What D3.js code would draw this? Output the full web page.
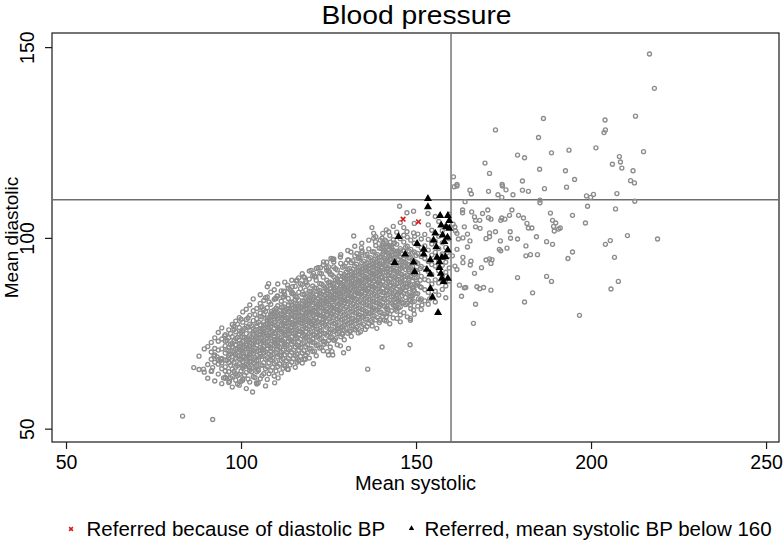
<!DOCTYPE html>
<html>
<head>
<meta charset="utf-8">
<script src="https://cdn.jsdelivr.net/npm/d3@7"></script>
<style>
  html, body { margin: 0; padding: 0; background: #fff; }
  svg { display: block; font-family: "Liberation Sans", Arial, Helvetica, sans-serif; }
</style>
</head>
<body>
<svg id="chart" width="783" height="541"></svg>
<script>
// ---------------- DATA ----------------
const chartTitle = "Blood pressure";
const xTitle = "Mean systolic";
const yTitle = "Mean diastolic";
const xTicks = [50, 100, 150, 200, 250];
const yTicks = [50, 100, 150];
const refSystolic = 160;
const refDiastolic = 110;
const legendLabels = ["Referred because of diastolic BP", "Referred, mean systolic BP below 160"];

// Referred because of diastolic BP (red x)
const referredDia = [[146.3, 104.9], [150.7, 104.2]];

// Referred, mean systolic BP below 160 (black triangles)
const referredSys = [
  [153.4,110.3],[153.4,108.1],[156.9,105.8],[159.1,105.8],[159.5,104.5],[157.2,103.3],[158.6,102.9],
  [159.5,102.5],[155.5,101.2],[157.6,100.7],[159.0,100.1],[145.0,100.3],[150.3,98.5],[155.0,99.4],
  [155.8,97.6],[158.1,99.0],[152.2,97.0],[159.1,96.8],[146.9,95.7],[152.2,95.7],[156.0,94.9],
  [157.4,94.9],[158.4,95.0],[143.9,93.5],[149.3,93.6],[154.1,94.2],[156.7,93.7],[156.7,92.2],
  [153.1,91.7],[149.6,91.1],[154.1,90.5],[157.1,90.7],[157.4,89.4],[159.1,89.4],[157.9,88.5],
  [154.1,86.7],[154.7,84.4],[156.3,80.4]
];

// Other patients (grey hollow circles): scattered points
const otherScattered = [
  [83.3,53.3],[91.9,52.4],[103.3,59.6],[107.0,61.2],[109.6,62.0],[110.6,63.3],[104.4,62.0],[104.9,62.0],
  [99.0,61.7],[100.4,62.6],[96.7,62.4],[95.0,63.3],[95.5,63.2],[89.3,65.6],[91.6,65.2],[91.9,66.0],
  [102.3,66.0],[104.9,65.3],[113.3,65.6],[112.5,66.4],[120.7,67.0],[116.5,67.7],[118.4,68.2],[136.2,65.6],
  [92.3,69.0],[93.2,68.8],[94.0,67.7],[94.3,68.2],[97.9,76.7],[95.3,74.3],[105.6,81.8],[108.7,80.7],
  [130.7,71.0],[129.3,69.9],[124.7,70.2],[126.0,70.2],[126.2,69.3],[125.0,69.3],[126.7,73.2],[123.7,72.1],
  [107.9,88.0],[107.0,84.3],[109.8,84.1],[110.3,84.7],[112.2,84.6],[112.3,85.9],[113.3,87.6],[114.7,87.2],
  [116.0,88.9],[117.0,88.0],[118.2,89.6],[118.6,88.2],[121.4,89.8],[122.0,92.2],[122.7,92.2],[123.6,93.7],
  [124.4,92.2],[125.3,91.1],[126.2,94.4],[126.5,93.7],[112.2,86.0],[114.6,85.8],[115.8,88.7],[117.9,89.8],
  [120.7,90.7],[120.0,91.5],[125.0,92.4],[125.7,94.6],[126.3,94.3],[128.4,95.0],[130.7,94.2],[131.4,96.3],
  [133.1,95.9],[133.6,95.0],[134.4,97.4],[134.6,96.6],[132.2,100.5],[137.4,102.7],[137.9,101.2],[137.9,99.9],
  [138.4,99.0],[139.8,99.4],[140.7,98.5],[142.2,97.8],[143.1,96.5],[143.9,98.7],[144.6,96.5],[145.5,96.6],
  [149.6,100.4],[146.5,100.7],[142.2,101.6],
  [148.4,78.4],[144.2,81.3],[141.5,79.3],[141.0,78.4],[139.6,78.4],[137.4,78.0],[136.0,76.7],[138.8,76.3],
  [134.1,75.4],[132.7,76.0],[131.2,75.4],[127.9,76.3],[128.9,75.0],[128.4,71.7],[140.3,71.4],[148.3,72.0],
  [149.3,86.3],[147.4,87.2],[146.5,88.0],[145.5,86.3],[144.6,85.0],[145.0,83.2],[150.7,84.0],[148.9,83.2],
  [148.4,82.4],[151.2,87.2],[150.3,88.1],[153.9,84.0],
  [145.3,108.3],[147.4,106.6],[149.3,107.0],[153.4,106.4],[145.5,104.0],[147.4,101.6],[149.3,101.3],
  [140.3,99.9],[141.2,99.4],[142.7,98.9],[143.6,98.5],[140.3,98.1],[141.7,97.6],[143.1,97.2],[140.7,96.3],
  [142.2,95.5],[144.1,95.7],[145.5,95.0],[141.2,94.2],[142.7,94.3],[146.5,93.7],[140.3,92.4],[141.7,92.0],
  [143.6,91.5],[145.5,92.0],[147.9,91.7],[151.2,92.0],[140.3,89.8],[142.2,90.2],[144.1,89.8],[146.0,89.4],
  [147.9,88.9],[151.2,88.9],[142.7,87.6],[144.6,88.0],[147.4,87.1],[149.3,87.1],[141.7,86.3],[143.6,85.4],
  [146.5,85.4],[148.9,85.0],[140.7,84.1],[143.6,83.7],[145.5,83.7],[148.4,83.7],[151.2,83.7],[141.7,82.0],
  [144.1,82.0],[151.7,82.4],[149.3,81.1],[145.5,79.8],[141.7,80.2],[144.6,78.9],[148.4,78.9],
  // right of the 160 line
  [216.7,148.2],[218.1,139.2],[186.4,131.3],[172.7,128.3],[185.0,126.3],[204.0,130.9],[204.1,128.3],[203.7,127.6],
  [212.7,131.9],[215.0,122.6],[201.4,123.6],[193.7,123.0],[188.7,122.3],[179.0,121.7],[181.0,121.0],[169.7,119.6],
  [171.0,116.9],[185.3,118.0],[192.7,117.6],[195.3,115.3],[180.4,114.9],[208.1,121.3],[208.4,119.9],[206.1,119.3],
  [208.8,118.3],[212.0,117.6],[211.3,115.0],[212.4,114.4],[160.7,116.0],[174.6,114.0],[161.7,114.0],
  [193.0,113.3],[198.7,111.0],[199.9,110.6],[200.7,111.4],[207.4,111.6],[212.5,109.6],[199.0,108.3],[207.0,107.6],
  [194.7,105.9],[198.4,103.9],[191.2,102.6],[210.4,100.6],[219.0,99.7],[205.5,99.3],[204.1,98.3],[194.7,96.3],
  [193.4,94.6],[206.7,94.9],[207.8,88.6],[205.7,86.6],[196.7,79.7],
  [160.9,113.4],[161.7,113.6],[165.4,112.5],[165.8,111.5],[170.7,112.2],[174.7,113.6],[175.7,112.6],[173.4,111.3],
  [174.5,110.6],[177.7,111.3],[180.4,112.5],[182.1,112.2],[186.7,112.9],[164.0,109.5],[185.4,109.9],[185.4,109.2],
  [163.3,107.3],[163.3,106.6],[165.9,106.8],[166.7,105.5],[167.0,104.6],[168.2,104.6],[169.0,106.4],[170.5,107.3],
  [170.7,105.3],[171.4,104.9],[174.2,104.6],[174.5,105.2],[175.4,104.9],[176.7,105.9],[177.4,107.3],[179.3,105.9],
  [180.7,105.2],[181.7,103.8],[182.1,102.6],[183.1,102.6],[188.4,106.5],[189.0,104.6],[189.9,103.9],[189.3,103.0],
  [189.5,101.8],[190.7,102.3],[160.6,103.6],[161.1,102.9],[161.3,101.8],[161.7,101.2],[163.8,102.9],[162.1,99.7],
  [163.4,100.0],[164.7,101.0],[165.4,99.2],[167.0,102.9],[168.3,102.5],[170.0,99.8],[171.0,100.3],[171.0,101.3],
  [172.7,101.6],[174.1,99.2],[176.9,101.6],[177.0,99.9],[179.0,99.7],[184.4,100.3],[187.3,99.0],[189.0,98.3],
  [181.4,97.9],[164.7,97.6],[161.7,97.0],[173.8,97.0],[174.2,96.6],[176.0,97.3],[181.4,95.3],[182.7,95.6],
  [184.7,95.6],[160.4,95.3],[163.4,94.9],[163.4,93.5],[165.7,93.9],[165.5,92.9],[170.0,94.2],[171.0,94.5],
  [171.7,94.3],[171.4,93.3],[168.7,92.2],[161.1,92.6],[161.7,91.7],[166.7,90.7],[179.0,89.6],[187.3,89.9],
  [188.7,88.6],[162.4,87.6],[163.8,86.9],[164.2,87.0],[167.4,87.2],[168.2,86.7],[169.3,87.0],[171.4,86.3],
  [163.0,84.7],[183.3,85.6],[167.0,82.6],[181.0,83.2],[166.4,77.6]
];

// Other patients: main cloud, listed by systolic value with the diastolic values seen there
const cloudSys = [
  86.5, 88, 89.5, 90.5, 91.5, 92.5, 93.5, 94.5, 95.5, 96.5, 97.5, 98.5, 99.5,
  100.5, 101.5, 102.5, 103.5, 104.5, 105.5, 106.5, 107.5, 108.5, 109.5,
  110.5, 111.5, 112.5, 113.5, 114.5, 115.5, 116.5, 117.5, 118.5, 119.5,
  120.5, 121.5, 122.5, 123.5, 124.5, 125.5, 126.5, 127.5, 128.5, 129.5,
  130.5, 131.5, 132.5, 133.5, 134.5, 135.5, 136.5, 137.5, 138.5, 139.5,
  140.5, 141.5, 142.5, 143.5, 144.5, 145.5, 146.5, 147.5, 148.5, 149.5,
  150.5, 151.5, 152.5, 153.5, 154.5, 155.5, 156.5, 157.5, 158.5, 159.5
];
const cloudDia = [
  [66.0],
  [65.5,69.0],
  [64.8,70.9],
  [66.8,71.5,63.2],
  [68.2,72.6,65.0,70.1],
  [62.5,67.4,71.0,73.8,69.3],
  [64.3,66.9,70.6,72.9,68.1,75.2],
  [61.8,65.7,68.4,70.9,73.5,67.2,76.4],
  [63.4,66.2,69.8,71.7,74.6,68.0,72.9,65.1],
  [62.1,64.9,67.3,69.2,71.3,73.8,75.9,68.6,70.4],
  [60.9,65.6,67.9,70.2,72.4,74.1,77.3,68.8,63.7,71.5],
  [62.7,66.1,68.5,70.8,72.0,73.6,75.4,78.2,69.5,64.4,71.9],
  [61.4,64.2,67.0,69.1,70.7,72.3,74.8,76.5,79.1,68.3,71.4,73.2],
  [63.0,65.8,67.6,69.9,71.2,72.8,74.0,75.7,77.9,80.6,70.3,68.8,66.4],
  [60.5,64.7,66.9,68.3,70.0,71.8,73.4,74.9,76.8,78.6,72.2,69.6,67.7,81.3],
  [62.2,65.3,67.5,69.4,70.9,72.6,74.3,75.8,77.4,79.7,71.5,68.7,73.5,82.4],
  [63.6,66.0,68.1,69.7,71.4,73.0,74.7,76.2,78.3,80.9,72.1,70.5,67.2,75.3,84.0],
  [61.7,64.9,67.8,70.2,71.9,73.6,75.1,76.9,78.8,81.5,72.7,69.2,74.2,77.6,66.5],
  [63.1,66.7,68.9,70.6,72.3,73.9,75.6,77.2,79.4,82.8,71.3,74.6,76.1,69.5,80.3,85.1],
  [64.4,67.3,69.8,71.6,73.1,74.8,76.4,78.0,79.9,83.6,72.5,75.4,70.7,77.1,81.2],
  [62.9,66.2,68.6,70.9,72.8,74.3,75.9,77.5,79.0,81.7,84.5,73.7,76.6,71.8,78.4,87.2],
  [65.2,68.0,70.3,72.1,73.8,75.2,76.8,78.3,80.1,82.6,74.5,77.7,71.2,79.6,85.8,69.1],
  [63.8,67.1,69.6,71.9,73.4,75.0,76.3,77.9,79.3,81.1,83.9,74.1,78.7,72.6,80.5,86.4],
  [66.3,68.8,70.8,72.7,74.4,75.9,77.4,78.9,80.4,82.2,84.8,76.5,73.3,79.8,71.5,87.9],
  [64.6,67.9,70.1,72.4,74.0,75.5,77.0,78.6,80.0,81.8,83.4,86.1,76.2,73.2,79.2,69.2],
  [66.8,69.4,71.6,73.5,75.3,76.9,78.1,79.5,81.0,82.7,85.0,77.6,74.7,80.6,72.0,88.4],
  [65.5,68.4,70.7,72.9,74.8,76.1,77.8,79.1,80.7,82.3,84.1,86.8,75.6,78.5,81.5,73.8],
  [67.4,70.0,72.2,74.1,75.7,77.3,78.8,80.2,81.6,83.2,85.4,88.9,76.6,79.8,73.0,82.4],
  [66.1,69.1,71.4,73.6,75.1,76.7,78.2,79.7,81.2,82.9,84.6,87.3,77.5,80.5,74.4,83.8],
  [68.0,70.6,72.8,74.6,76.3,77.9,79.4,80.8,82.1,83.7,85.7,89.5,78.6,81.4,75.5,71.7],
  [67.2,69.8,72.3,74.3,76.0,77.6,79.0,80.4,81.9,83.5,85.2,87.8,78.3,82.6,75.2,90.6],
  [69.3,71.5,73.7,75.4,77.1,78.7,80.1,81.5,83.0,84.4,86.3,88.6,79.6,82.2,76.4,74.0],
  [68.5,71.0,73.2,75.0,76.8,78.4,79.9,81.3,82.8,84.3,86.0,89.2,77.9,80.7,83.6,91.3],
  [70.2,72.6,74.7,76.5,78.1,79.6,81.0,82.5,83.9,85.5,87.4,90.1,80.3,77.3,84.8,73.5],
  [69.1,71.8,74.0,76.1,77.7,79.2,80.6,82.0,83.4,85.0,86.8,88.9,81.7,78.9,92.0,75.3],
  [71.1,73.4,75.6,77.3,78.9,80.4,81.8,83.2,84.7,86.2,88.0,90.8,82.6,79.7,85.6,74.6],
  [70.4,72.9,75.0,76.9,78.6,80.0,81.5,82.9,84.3,85.9,87.5,89.7,92.9,83.7,79.3,77.8],
  [72.3,74.5,76.6,78.3,79.9,81.3,82.7,84.1,85.5,87.1,88.9,91.5,83.3,80.6,86.4,93.6],
  [71.4,73.9,76.0,77.9,79.5,81.0,82.4,83.8,85.2,86.7,88.4,90.5,84.6,80.2,87.6,75.0],
  [73.2,75.5,77.5,79.2,80.8,82.3,83.7,85.1,86.5,88.0,89.8,92.4,84.4,81.6,87.0,94.5],
  [72.0,74.9,77.0,78.8,80.5,82.0,83.4,84.8,86.2,87.7,89.3,91.6,85.6,81.2,88.5,76.2],
  [74.1,76.4,78.5,80.2,81.8,83.3,84.7,86.1,87.5,89.0,90.7,93.3,85.4,82.9,88.2,95.6],
  [73.3,75.8,78.0,79.8,81.4,82.9,84.3,85.8,87.2,88.7,90.4,92.6,86.6,83.6,89.5,77.1],
  [75.0,77.4,79.4,81.1,82.7,84.2,85.6,87.0,88.4,90.0,91.7,94.2,86.3,83.9,89.2,96.7],
  [74.2,76.9,78.9,80.7,82.3,83.8,85.2,86.7,88.1,89.6,91.3,93.5,87.7,84.6,90.5,78.0],
  [75.9,78.3,80.3,82.0,83.6,85.1,86.5,87.9,89.3,90.9,92.6,95.3,87.3,84.8,90.1,97.8],
  [75.1,77.8,79.9,81.6,83.2,84.7,86.1,87.6,89.0,90.5,92.2,94.6,88.6,85.5,91.4,79.2],
  [76.8,79.2,81.2,82.9,84.5,86.0,87.4,88.8,90.2,91.8,93.5,96.2,88.2,85.8,91.0,98.6],
  [76.0,78.7,80.8,82.5,84.1,85.6,87.0,88.5,89.9,91.4,93.1,95.4,89.5,86.4,92.3,80.1],
  [77.6,80.1,82.1,83.8,85.4,86.9,88.3,89.7,91.1,92.7,94.4,97.1,89.1,86.7,92.0,99.4],
  [76.9,79.6,81.7,83.4,85.0,86.5,87.9,89.4,90.8,92.3,94.0,96.4,90.4,87.3,93.2,81.0],
  [78.5,81.0,83.0,84.7,86.3,87.8,89.2,90.6,92.0,93.6,95.3,98.0,90.0,87.6,92.9,100.3],
  [77.8,80.5,82.6,84.3,85.9,87.4,88.8,90.3,91.7,93.2,94.9,97.3,91.3,88.2,94.1,81.9],
  [79.4,83.1,85.7,88.6,90.9,93.0,95.8,97.6,101.2,86.8],
  [78.2,81.5,84.9,87.3,89.2,91.8,93.9,96.4,99.0,102.1],
  [80.1,83.6,86.0,88.4,90.7,92.8,95.2,97.9,100.6,77.5],
  [79.0,82.4,84.8,87.2,89.6,92.1,94.7,96.8,99.5,103.0],
  [80.8,84.2,86.6,89.0,91.2,93.4,96.0,98.3,101.5],
  [78.0,81.9,85.9,88.3,90.6,92.7,94.9,97.2,99.8],
  [80.4,83.0,86.9,89.8,92.4,94.4,96.6,98.9,102.7],
  [79.3,82.8,85.3,88.0,90.3,93.1,95.6,97.8,100.2],
  [81.5,84.5,87.6,90.0,92.2,94.8,97.0,99.4],
  [80.0,83.3,86.2,89.5,91.6,93.9,96.3,98.6,103.8],
  [82.1,85.4,88.1,90.8,93.3,95.9,98.1,101.0],
  [81.2,84.0,87.0,89.9,92.5,95.1,97.4,99.7],
  [83.5,86.4,89.1,92.0,94.6,97.9,100.9],
  [82.6,85.7,88.8,91.2,93.8,96.8,99.6,103.4],
  [84.8,87.9,90.4,93.0,95.5,98.4,102.0],
  [83.2,86.0,89.0,92.6,96.2,99.1,105.6],
  [85.0,88.2,91.4,94.0,97.2,100.4,104.3],
  [86.5,89.6,92.8,95.8,98.7,101.9],
  [84.3,87.4,91.0,93.6,97.5,103.1],
  [88.7,92.1,95.3,99.8,106.2]
];

// Additional points in the dense core of the cloud (between the columns above)
const coreSys = [
  96, 97, 98, 99, 100, 101, 102, 103, 104, 105, 106, 107, 108, 109, 110, 111, 112, 113,
  114, 115, 116, 117, 118, 119, 120, 121, 122, 123, 124, 125, 126, 127, 128, 129, 130,
  131, 132, 133, 134, 135, 136, 137, 138, 139, 140, 141, 142, 143, 144, 145, 146, 147,
  148, 149, 150
];
const coreDia = [
  [64.1,67.9,70.6,73.1],
  [63.3,66.6,69.5,72.0,74.9],
  [65.0,67.4,70.0,73.0,76.0],
  [63.9,66.5,69.0,71.1,73.9,77.4],
  [62.4,65.1,68.1,70.5,72.5,75.2,78.7],
  [64.0,66.3,69.0,71.5,73.9,76.3],
  [63.0,66.6,68.9,71.1,73.2,76.6,79.0],
  [64.9,67.6,70.0,72.3,74.0,77.0],
  [63.4,66.3,68.7,71.1,73.3,75.8,79.9],
  [65.4,67.9,70.4,72.8,74.7,77.9],
  [63.9,66.6,69.0,71.0,73.7,76.1,79.3,82.0],
  [65.7,68.2,70.2,72.5,75.1,77.3,80.7],
  [64.4,67.3,69.5,71.7,74.2,76.3,78.9,83.2],
  [66.1,68.5,70.9,73.0,75.5,77.4,80.1],
  [65.1,67.5,69.9,72.2,74.9,77.0,79.3,81.6,84.1],
  [66.9,69.3,71.3,73.8,76.0,78.2,80.9],
  [65.8,68.3,70.5,72.9,75.2,77.4,79.8,82.0,84.5],
  [67.8,70.0,72.1,74.4,76.6,79.0,81.2],
  [66.7,69.2,71.1,73.4,75.6,77.8,80.5,83.1,86.4],
  [68.4,70.6,72.7,74.9,77.1,79.3,81.7,85.3],
  [67.4,69.5,71.9,73.9,76.0,78.3,80.4,82.6,84.4],
  [69.0,71.2,73.4,75.5,77.6,79.8,82.0,86.7],
  [68.2,70.4,72.5,74.6,76.8,78.9,81.1,83.4,85.1],
  [69.8,72.0,74.1,76.2,78.3,80.3,82.5,84.7,87.6],
  [71.0,73.0,75.3,77.5,79.1,81.4,83.3,85.9],
  [70.3,72.5,74.6,76.9,78.4,80.8,82.9,84.4,86.9,89.8],
  [72.0,74.2,76.0,78.0,80.1,82.2,84.1,86.0],
  [71.3,73.6,75.7,77.7,79.6,81.8,83.5,85.3,87.9,90.6],
  [72.7,74.9,77.2,79.1,80.9,83.0,84.9,86.8],
  [73.1,75.2,77.0,78.8,80.8,82.6,84.4,86.1,88.3,91.2],
  [74.0,76.1,78.1,80.0,81.9,83.9,85.8,87.9,90.3],
  [73.6,75.7,77.6,79.6,81.3,83.1,85.0,86.9,89.0,91.9],
  [75.2,77.2,79.1,80.9,82.6,84.5,86.4,88.3,90.0],
  [74.7,76.7,78.6,80.5,82.2,84.0,85.9,87.8,89.9,92.3],
  [76.2,78.1,79.9,81.8,83.5,85.3,87.1,89.1,91.0,93.4],
  [75.6,77.7,79.5,81.4,83.1,84.9,86.5,88.5,90.2,92.0],
  [77.0,78.9,80.8,82.6,84.3,86.2,88.0,89.8,91.8,94.0],
  [76.5,78.5,80.4,82.2,83.9,85.8,87.4,89.2,91.1,93.1],
  [77.9,79.8,81.6,83.5,85.3,87.0,88.7,90.6,92.4,94.8],
  [77.3,79.4,81.2,83.0,84.8,86.6,88.2,90.1,91.9,93.9],
  [78.7,80.6,82.5,84.3,86.1,87.8,89.6,91.5,93.3,95.7],
  [78.3,80.3,82.2,83.9,85.7,87.4,89.1,90.9,92.8,94.8],
  [79.6,81.5,83.4,85.2,87.0,88.7,90.5,92.4,94.3,96.3],
  [79.1,81.2,83.0,84.8,86.6,88.4,90.0,91.9,93.7,95.6],
  [80.5,82.4,84.2,86.0,87.8,89.6,91.4,93.2,95.1,97.2],
  [80.0,82.0,83.8,85.6,87.5,89.3,90.9,92.7,94.6,96.6],
  [81.3,83.2,85.1,86.9,88.7,90.4,92.2,94.0,96.0],
  [80.9,82.9,84.6,86.5,88.3,90.1,91.8,93.5,95.4,97.6],
  [82.2,84.0,85.9,87.7,89.5,91.3,93.1,94.9],
  [81.6,83.6,85.5,87.3,89.1,90.9,92.6,94.4,96.3],
  [83.0,84.9,86.7,88.6,90.4,92.2,93.9,95.8],
  [82.5,84.4,86.3,88.1,89.9,91.7,93.5,95.3,97.5],
  [83.8,85.7,87.5,89.4,91.2,93.0,94.7,96.6],
  [84.7,86.8,88.7,90.6,92.5,94.2,96.0],
  [85.4,87.6,89.6,91.5,93.6,95.4]
];

// ---------------- DRAWING ----------------
const svg = d3.select("#chart");
const frame = { left: 52, right: 779, top: 33, bottom: 442 };

const x = d3.scaleLinear().domain([46.0, 253.7]).range([frame.left, frame.right]);
const y = d3.scaleLinear().domain([46.5, 153.7]).range([frame.bottom, frame.top]);

const grey = "#8c8c8c";

// title
svg.append("text")
  .attr("x", (frame.left + frame.right) / 2 + 1)
  .attr("y", 23.5)
  .attr("text-anchor", "middle")
  .attr("font-size", 25.5)
  .attr("textLength", 190)
  .attr("lengthAdjust", "spacingAndGlyphs")
  .attr("fill", "#000")
  .text(chartTitle);

// plot frame
svg.append("rect")
  .attr("x", frame.left).attr("y", frame.top)
  .attr("width", frame.right - frame.left)
  .attr("height", frame.bottom - frame.top)
  .attr("fill", "#fff")
  .attr("stroke", "#1a1a1a")
  .attr("stroke-width", 1.2);

// axes
const xAxis = d3.axisBottom(x).tickValues(xTicks).tickSize(7).tickPadding(6).tickFormat(d3.format("d"));
const gx = svg.append("g").attr("transform", `translate(0,${frame.bottom})`).call(xAxis);
gx.select(".domain").remove();
gx.selectAll("line").attr("stroke", "#1a1a1a").attr("stroke-width", 1.2);
gx.selectAll("text").attr("font-size", 19.5).attr("font-family", "Liberation Sans, Arial, sans-serif").attr("fill", "#000")
  .attr("dy", null).attr("y", 27);

const yAxis = d3.axisLeft(y).tickValues(yTicks).tickSize(7).tickFormat(d3.format("d"));
const gy = svg.append("g").attr("transform", `translate(${frame.left},0)`).call(yAxis);
gy.select(".domain").remove();
gy.selectAll("line").attr("stroke", "#1a1a1a").attr("stroke-width", 1.2);
gy.selectAll("text")
  .attr("font-size", 19.5).attr("font-family", "Liberation Sans, Arial, sans-serif").attr("fill", "#000")
  .attr("x", null).attr("dy", null)
  .attr("text-anchor", "middle")
  .attr("transform", "translate(-18,0) rotate(-90)");

// axis titles
svg.append("text")
  .attr("x", (frame.left + frame.right) / 2)
  .attr("y", 490)
  .attr("text-anchor", "middle")
  .attr("font-size", 20)
  .text(xTitle);

svg.append("text")
  .attr("transform", `translate(17.5,${(frame.top + frame.bottom) / 2}) rotate(-90)`)
  .attr("text-anchor", "middle")
  .attr("font-size", 19)
  .text(yTitle);

// reference lines
const plot = svg.append("g");
plot.append("line")
  .attr("x1", x(refSystolic)).attr("x2", x(refSystolic))
  .attr("y1", frame.top).attr("y2", frame.bottom)
  .attr("stroke", "#6e6e6e").attr("stroke-width", 1.4);
plot.append("line")
  .attr("x1", frame.left).attr("x2", frame.right)
  .attr("y1", y(refDiastolic)).attr("y2", y(refDiastolic))
  .attr("stroke", "#6e6e6e").attr("stroke-width", 1.4);

// grey points
const cloudPoints = [];
cloudSys.forEach((s, i) => cloudDia[i].forEach(d => cloudPoints.push([s, d])));
coreSys.forEach((s, i) => coreDia[i].forEach(d => cloudPoints.push([s, d])));
const allOther = otherScattered.concat(cloudPoints);

plot.append("g").selectAll("circle")
  .data(allOther)
  .join("circle")
  .attr("cx", d => x(d[0]))
  .attr("cy", d => y(d[1]))
  .attr("r", 2.0)
  .attr("fill", "none")
  .attr("stroke", grey)
  .attr("stroke-width", 1.35);

// triangles
const tri = d3.symbol().type(d3.symbolTriangle).size(28);
plot.append("g").selectAll("path")
  .data(referredSys)
  .join("path")
  .attr("d", tri)
  .attr("transform", d => `translate(${x(d[0])},${y(d[1])})`)
  .attr("fill", "#000");

// red crosses
function crossPath(s) { return `M${-s},${-s}L${s},${s}M${-s},${s}L${s},${-s}`; }
plot.append("g").selectAll("path")
  .data(referredDia)
  .join("path")
  .attr("d", crossPath(2.3))
  .attr("transform", d => `translate(${x(d[0])},${y(d[1])})`)
  .attr("stroke", "#d7191c")
  .attr("stroke-width", 1.6)
  .attr("fill", "none");

// legend
const leg = svg.append("g");
leg.append("path")
  .attr("d", crossPath(1.9))
  .attr("transform", "translate(71,529)")
  .attr("stroke", "#d7191c").attr("stroke-width", 1.5).attr("fill", "none");
leg.append("text")
  .attr("x", 86.5).attr("y", 535.5)
  .attr("font-size", 20.5)
  .text(legendLabels[0]);
leg.append("path")
  .attr("d", d3.symbol().type(d3.symbolTriangle).size(13)())
  .attr("transform", "translate(411.5,528.5)")
  .attr("fill", "#000");
leg.append("text")
  .attr("x", 424.5).attr("y", 535.5)
  .attr("font-size", 20.5)
  .text(legendLabels[1]);
</script>
</body>
</html>
